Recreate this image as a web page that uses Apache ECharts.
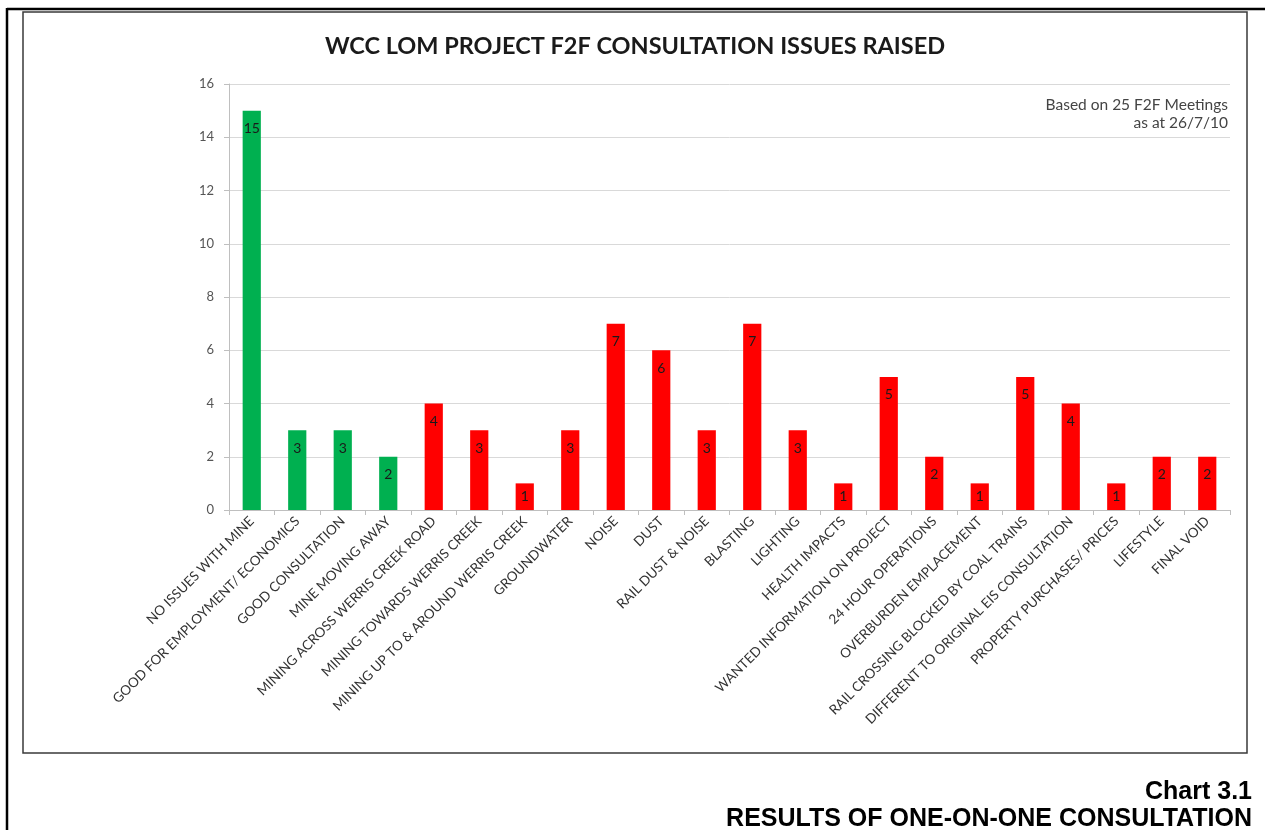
<!DOCTYPE html>
<html>
<head>
<meta charset="utf-8">
<script src="https://cdn.jsdelivr.net/npm/echarts@6/dist/echarts.min.js"></script>
<style>
html,body{margin:0;padding:0;background:#fff;}
#chart{width:1265px;height:830px;}
</style>
</head>
<body>
<div id="chart"></div>
<script>
const categories = [
  "NO ISSUES WITH MINE",
  "GOOD FOR EMPLOYMENT/ ECONOMICS",
  "GOOD CONSULTATION",
  "MINE MOVING AWAY",
  "MINING ACROSS WERRIS CREEK ROAD",
  "MINING TOWARDS WERRIS CREEK",
  "MINING UP TO & AROUND WERRIS CREEK",
  "GROUNDWATER",
  "NOISE",
  "DUST",
  "RAIL DUST & NOISE",
  "BLASTING",
  "LIGHTING",
  "HEALTH IMPACTS",
  "WANTED INFORMATION ON PROJECT",
  "24 HOUR OPERATIONS",
  "OVERBURDEN EMPLACEMENT",
  "RAIL CROSSING BLOCKED BY COAL TRAINS",
  "DIFFERENT TO ORIGINAL EIS CONSULTATION",
  "PROPERTY PURCHASES/ PRICES",
  "LIFESTYLE",
  "FINAL VOID"
];
const values = [15, 3, 3, 2, 4, 3, 1, 3, 7, 6, 3, 7, 3, 1, 5, 2, 1, 5, 4, 1, 2, 2];
const positive = [true, true, true, true, false, false, false, false, false, false, false,
                  false, false, false, false, false, false, false, false, false, false, false];
const yTicks = { min: 0, max: 16, interval: 2 };
const titleText = 'WCC LOM PROJECT F2F CONSULTATION ISSUES RAISED';
const noteLines = ['Based on 25 F2F Meetings', 'as at 26/7/10'];
const captionLines = ['Chart 3.1', 'RESULTS OF ONE-ON-ONE CONSULTATION'];

const GREEN = '#00B050';
const RED = '#FF0000';
const FONT = 'Lato, "Open Sans", sans-serif';
const ARIAL = '"Liberation Sans", Arial, sans-serif';

const chart = echarts.init(document.getElementById('chart'), null, { renderer: 'canvas' });

const option = {
  animation: false,
  backgroundColor: '#ffffff',
  graphic: [
    { type: 'line', shape: { x1: 7, y1: 9, x2: 1265, y2: 9 }, style: { stroke: '#000', lineWidth: 2.5 }, silent: true },
    { type: 'line', shape: { x1: 7, y1: 8, x2: 7, y2: 830 }, style: { stroke: '#000', lineWidth: 2.5 }, silent: true },
    { type: 'rect', shape: { x: 23, y: 12, width: 1224, height: 741 }, style: { fill: 'none', stroke: '#3a3a3a', lineWidth: 1.5 }, silent: true },
    { type: 'text', x: 635, y: 58, silent: true,
      style: { text: titleText, font: 'bold 23.5px ' + FONT, fill: '#1a1a1a', textAlign: 'center', textVerticalAlign: 'bottom' } },
    { type: 'text', x: 1228, y: 113, silent: true,
      style: { text: noteLines[0], font: '15.5px ' + FONT, fill: '#444', textAlign: 'right', textVerticalAlign: 'bottom' } },
    { type: 'text', x: 1228, y: 131, silent: true,
      style: { text: noteLines[1], font: '15.5px ' + FONT, fill: '#444', textAlign: 'right', textVerticalAlign: 'bottom' } },
    { type: 'text', x: 1252, y: 805, silent: true,
      style: { text: captionLines[0], font: 'bold 25px ' + ARIAL, fill: '#000', textAlign: 'right', textVerticalAlign: 'bottom' } },
    { type: 'text', x: 1252, y: 832, silent: true,
      style: { text: captionLines[1], font: 'bold 25px ' + ARIAL, fill: '#000', textAlign: 'right', textVerticalAlign: 'bottom' } }
  ],
  grid: { left: 229, right: 35, top: 84, bottom: 320, containLabel: false },
  xAxis: {
    type: 'category',
    data: categories,
    axisLine: { show: true, lineStyle: { color: '#bfbfbf', width: 1 } },
    axisTick: { show: true, alignWithLabel: false, length: 5, lineStyle: { color: '#bfbfbf' } },
    axisLabel: {
      interval: 0, rotate: 45, fontFamily: FONT, fontSize: 13.5, color: '#333', margin: 9
    }
  },
  yAxis: {
    type: 'value',
    min: yTicks.min, max: yTicks.max, interval: yTicks.interval,
    axisLine: { show: true, lineStyle: { color: '#bfbfbf', width: 1 } },
    axisTick: { show: true, length: 5, lineStyle: { color: '#bfbfbf' } },
    axisLabel: { fontFamily: FONT, fontSize: 13, color: '#555', margin: 15 },
    splitLine: { show: true, lineStyle: { color: '#d9d9d9', width: 1 } }
  },
  series: [{
    type: 'bar',
    data: values.map((v, i) => ({
      value: v,
      itemStyle: { color: positive[i] ? GREEN : RED },
      label: v <= 1 ? { position: 'inside' } : undefined
    })),
    barWidth: '40%',
    label: {
      show: true, position: 'insideTop', distance: 11,
      fontFamily: FONT, fontSize: 14, color: '#1a1a1a'
    }
  }]
};
chart.setOption(option);
</script>
</body>
</html>
